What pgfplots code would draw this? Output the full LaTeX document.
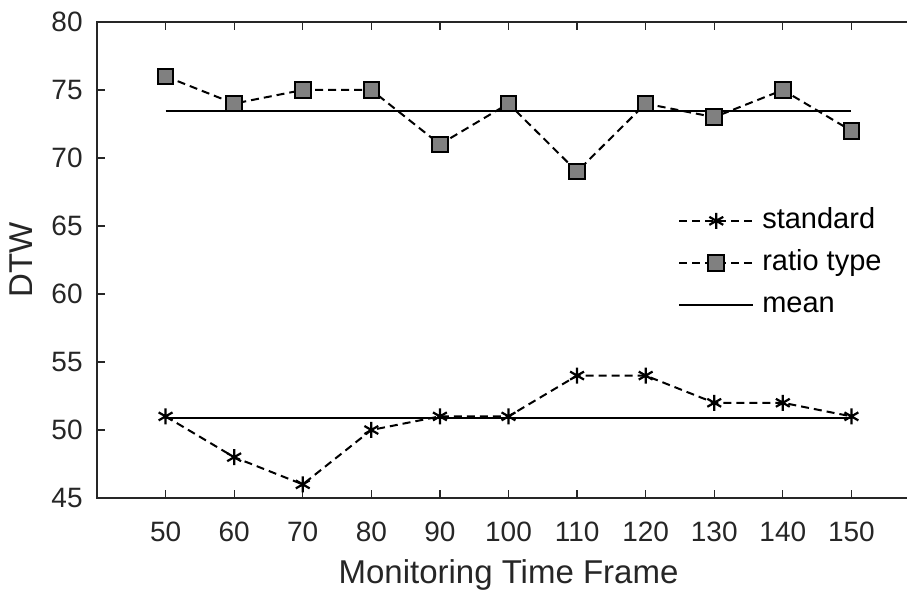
\documentclass[border=0pt]{standalone}
\usepackage{fontspec}
\setmainfont{Liberation Sans}
\usepackage{pgfplots}
\pgfplotsset{compat=1.18}
\definecolor{axgray}{HTML}{262626}
\definecolor{mkgray}{HTML}{808080}
\begin{document}
\begin{tikzpicture}
\begin{axis}[
  scale only axis,
  width=411.5pt, height=238pt,
  xmin=40, xmax=160, ymin=45, ymax=80,
  xtick={50,60,...,150},
  ytick={45,50,...,80},
  /pgf/number format/assume math mode=true,
  tick align=inside,
  major tick length=4pt,
  axis line style={axgray, line width=0.6pt},
  every tick/.style={axgray, line width=0.6pt},
  tick label style={font=\fontsize{14}{16}\selectfont, text=axgray},
  yticklabel style={inner sep=0pt, xshift=-7pt},
  xticklabel style={inner sep=0pt, yshift=-11.8pt},
  xlabel={Monitoring Time Frame},
  ylabel={DTW},
  every axis x label/.style={at={(axis description cs:0.5,-0.18)}, anchor=base, font=\fontsize{16.5}{19}\selectfont, text=axgray},
  every axis y label/.style={at={(axis description cs:-0.0778,0.5)}, anchor=base, rotate=90, font=\fontsize{16.5}{19}\selectfont, text=axgray},
  legend style={draw=none, fill=none, at={(axis cs:124.7,66.4)}, anchor=north west,
    font=\fontsize{14.5}{17}\selectfont, text=black,
    nodes={inner sep=0pt, text height=10.5pt, text depth=3pt},
    row sep=7.5pt, column sep=4pt, inner sep=0pt},
  legend cell align=left,
  legend image code/.code={\draw[mark repeat=2,mark phase=2,#1] plot coordinates {(0pt,0pt) (18.5pt,0pt) (37pt,0pt)};},
]
\addplot[black, line width=1pt, dash pattern=on 4pt off 2.5pt, mark=asterisk, mark size=4pt,
  mark options={solid, line width=1.1pt}]
  coordinates {(50,51) (60,48) (70,46) (80,50) (90,51) (100,51) (110,54) (120,54) (130,52) (140,52) (150,51)};
\addlegendentry{standard}
\addplot[black, line width=1pt, dash pattern=on 4pt off 2.5pt, mark=square*, mark size=3.9pt,
  mark options={solid, fill=mkgray, draw=black, line width=1pt}]
  coordinates {(50,76) (60,74) (70,75) (80,75) (90,71) (100,74) (110,69) (120,74) (130,73) (140,75) (150,72)};
\addlegendentry{ratio type}
\addplot[black, line width=1pt, no marks] coordinates {(50,73.4545) (150,73.4545)};
\addlegendentry{mean}
\addplot[black, line width=1pt, no marks, forget plot] coordinates {(50,50.9091) (150,50.9091)};
\end{axis}
\pgfresetboundingbox
\useasboundingbox (-48.5pt,-47pt) rectangle (405pt,249pt);
\end{tikzpicture}
\end{document}
